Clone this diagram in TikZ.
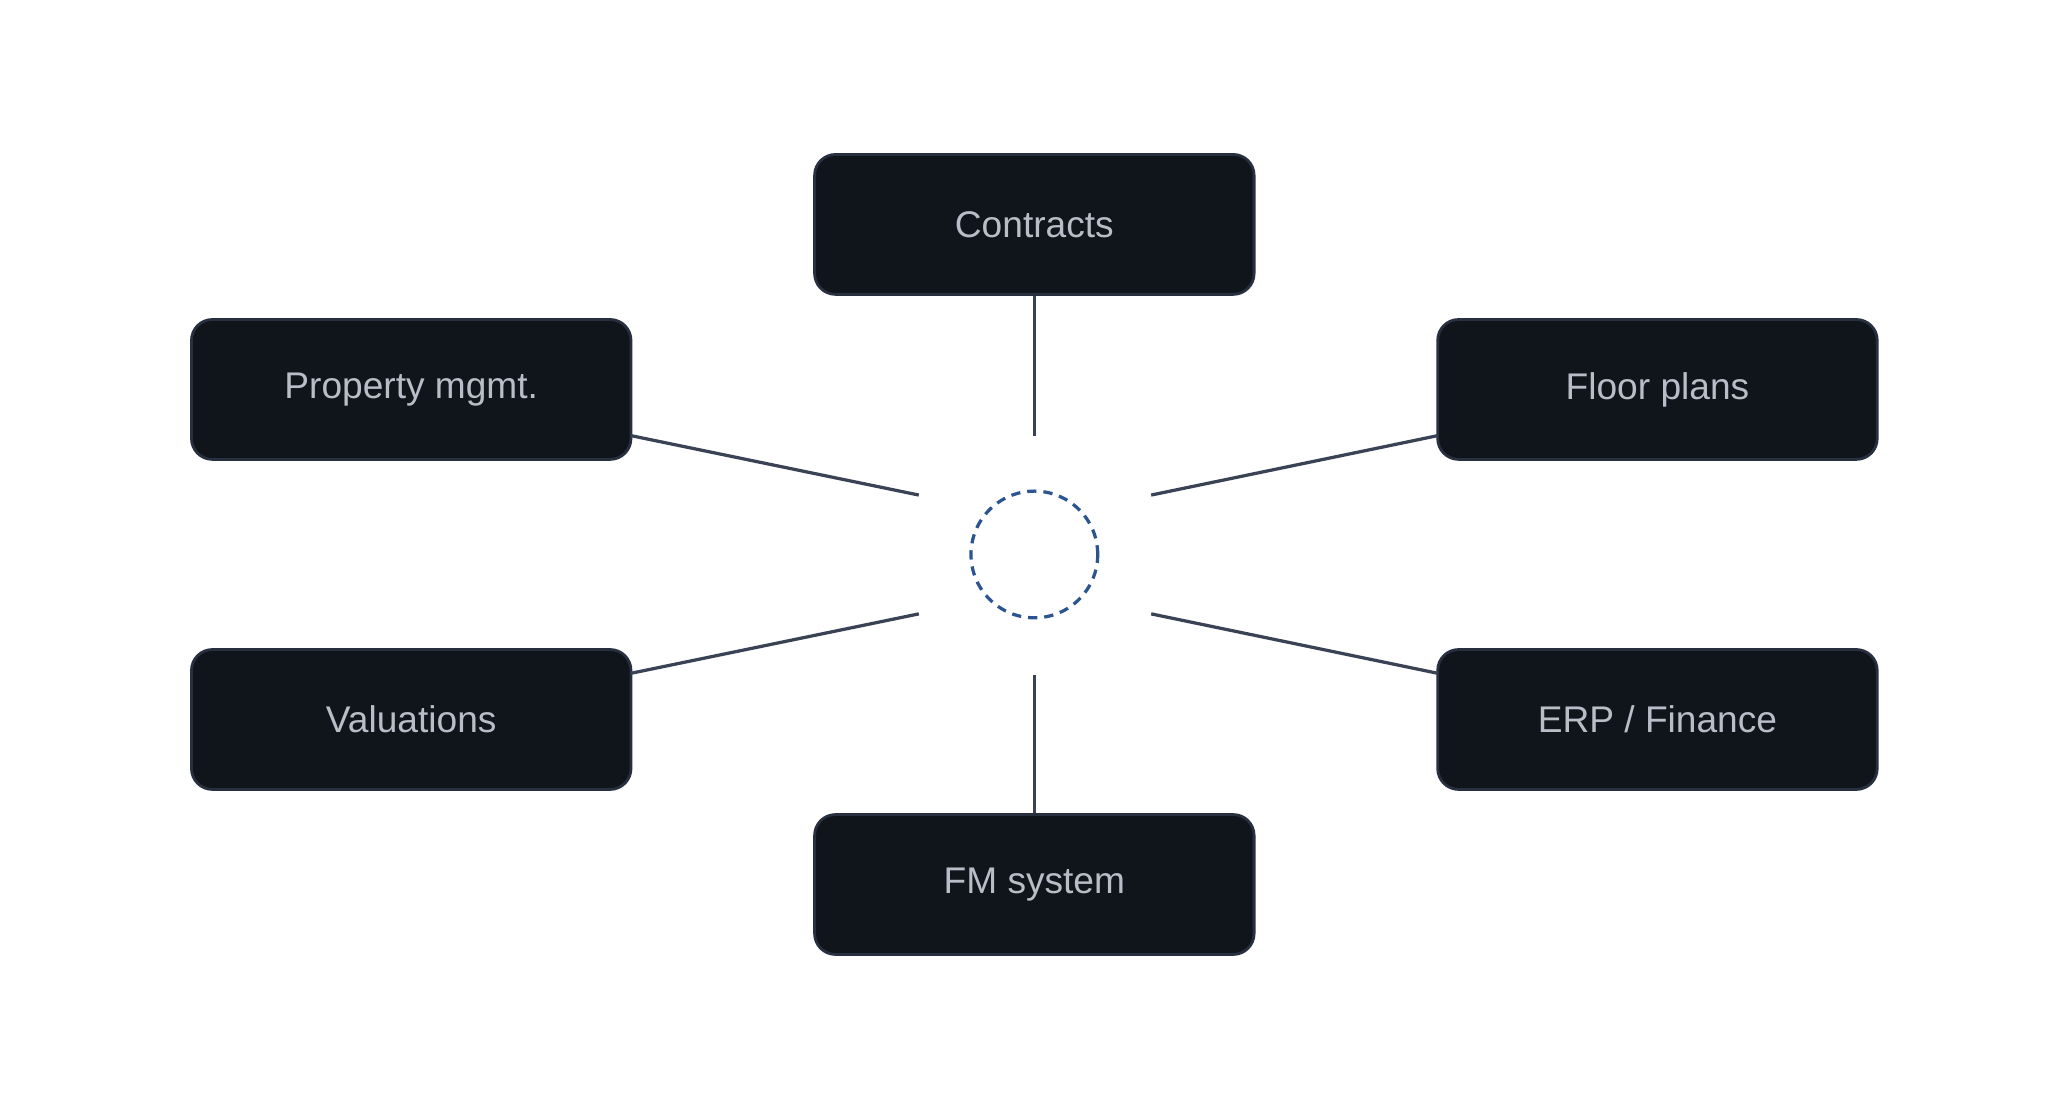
\documentclass[tikz,border=0pt]{standalone}
\usepackage{fontspec}
\setmainfont{Liberation Sans}
\begin{document}
\begin{tikzpicture}[x=0.02cm,y=-0.02cm,
  box/.style={draw=boxline,line width=1.2pt,fill=boxfill,rounded corners=9pt,minimum width=6.66cm,minimum height=2.12cm,text=boxtext,font=\fontsize{16}{19}\selectfont},
  link/.style={draw=linkc,line width=1.4pt}]
\definecolor{boxfill}{HTML}{10151C}
\definecolor{boxline}{HTML}{283040}
\definecolor{boxtext}{HTML}{B8BEC8}
\definecolor{linkc}{HTML}{3A4256}
\definecolor{hubc}{HTML}{2C5490}
\useasboundingbox (0,0) rectangle (1568,841);
\node[box] (con) at (783.5,170) {Contracts};
\node[box] (pro) at (311.5,295) {Property mgmt.};
\node[box] (flo) at (1255.5,295) {Floor plans};
\node[box] (val) at (311.5,545) {Valuations};
\node[box] (erp) at (1255.5,545) {ERP / Finance};
\node[box] (fm) at (783.5,670) {FM system};
\node[circle,draw=hubc,line width=1.4pt,dash pattern=on 4pt off 3pt,minimum size=1.92cm,inner sep=0pt] (hub) at (783.5,420) {};
\coordinate (a) at (783.5,330);
\coordinate (b) at (783.5,511);
\coordinate (c) at (696,375);
\coordinate (d) at (872,375);
\coordinate (e) at (696,465);
\coordinate (f) at (872,465);
\draw[link] (con) -- (a);
\draw[link] (fm) -- (b);
\draw[link] (478,330) -- (c);
\draw[link] (1089,330) -- (d);
\draw[link] (478,510) -- (e);
\draw[link] (1089,510) -- (f);
\end{tikzpicture}
\end{document}
